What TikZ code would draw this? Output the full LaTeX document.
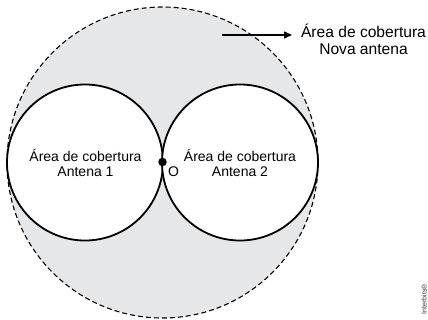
\documentclass[tikz,border=0pt]{standalone}
\usepackage{fontspec}
\setmainfont{Liberation Sans}
\usetikzlibrary{arrows.meta}
\definecolor{areagray}{HTML}{E6E7E8}
\tikzset{
  antenna/.style={draw=black, line width=1.8bp, fill=white},
  newarea/.style={draw=black, line width=1.1bp, dash pattern=on 5bp off 3bp, fill=areagray},
  lbl/.style={align=center, inner sep=0pt, font=\fontsize{14bp}{15bp}\selectfont},
  biglbl/.style={align=center, inner sep=0pt, font=\fontsize{15.6bp}{16.8bp}\selectfont},
  pointer/.style={line width=1.5bp, -{Triangle[length=8bp,width=7bp]}}
}
\begin{document}
\begin{tikzpicture}[x=1bp,y=-1bp]
\useasboundingbox (0,0) rectangle (428,320);
\fill[white] (0,0) rectangle (428,320);
\draw[newarea] (162.5,162.5) circle[radius=155.5];
\draw[antenna] (85,162.5) circle[radius=78];
\draw[antenna] (240,162.5) circle[radius=78];
\node[circle, fill=black, inner sep=0pt, minimum size=8.5bp] (O) at (162.5,162) {};
\node[lbl, anchor=center] (Olbl) at (173.5,172) {O};
\node[lbl, anchor=base] (a1) at (85.5,176.7) {Área de cobertura\\Antena 1};
\node[lbl, anchor=base] (a2) at (240,176.7) {Área de cobertura\\Antena 2};
\node[biglbl, anchor=base] (nova) at (363.5,54.3) {Área de cobertura\\Nova antena};
\coordinate (arrstart) at (222,35);
\coordinate (arrend) at (292,35);
\draw[pointer] (arrstart) -- (arrend);
\node[rotate=90, inner sep=0pt, font=\fontsize{7bp}{8bp}\selectfont, text=black!80] (ib) at (424,299) {Interbits®};
\end{tikzpicture}
\end{document}
